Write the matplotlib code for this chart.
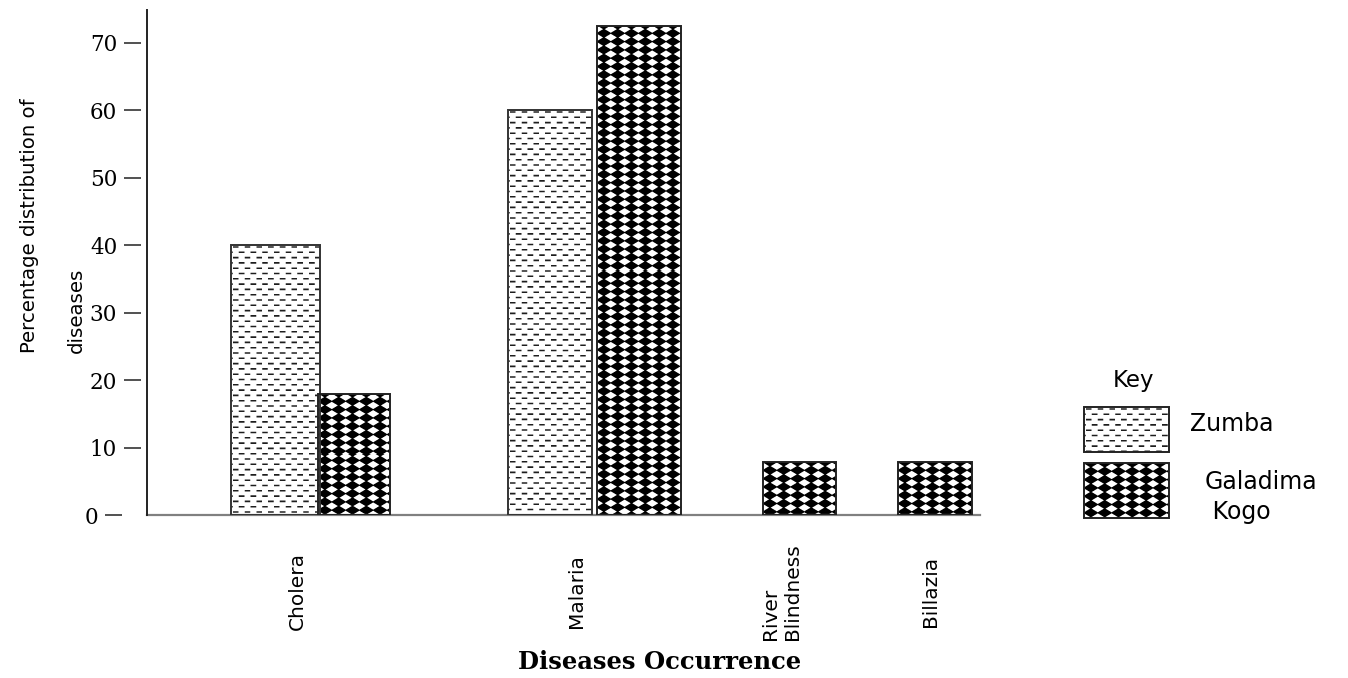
import matplotlib
matplotlib.use("Agg")
import matplotlib.pyplot as plt
import numpy as np
from matplotlib.patches import Rectangle
from matplotlib.transforms import ScaledTranslation

# disease shares (%) per settlement
categories = ["Cholera", "Malaria", "River\nBlindness", "Billazia"]
zumba_pct = [40, 60, 0, 0]
galadima_pct = [18, 72.5, 7.8, 7.8]
y_ticks = [0, 10, 20, 30, 40, 50, 60, 70]

# bar layout in axis units (1 unit = 100 px)
zumba_x = [1.285, 4.03, 0, 0]
zumba_w = [0.89, 0.84, 0, 0]
galadima_x = [2.07, 4.92, 6.525, 7.88]
galadima_w = [0.72, 0.84, 0.73, 0.74]
label_x = [1.50, 4.30, 6.34, 7.83]

W, H, DPI = 1348, 678, 100
SS = 4


def dash_texture(h, w):
    yy, xx = np.mgrid[0:h * SS, 0:w * SS] / SS + 0.5 / SS
    period_y, period_x = 5.3, 11.7
    row = np.floor((yy - 1.2) / period_y)
    yin = (yy - 1.2) - row * period_y
    xin = (xx + (row % 2) * period_x / 2 - 2.0) % period_x
    ink = (yin < 1.6) & (xin < 5.6)
    val = 1.0 - 0.88 * ink
    return val.reshape(h, SS, w, SS).mean(axis=(1, 3))


def diamond_texture(h, w):
    yy, xx = np.mgrid[0:h * SS, 0:w * SS] / SS + 0.5 / SS
    p, q = 13.8, 8.3
    dx = xx / p - 0.5
    dx = dx - np.round(dx)
    dy = yy / q
    dy = dy - np.round(dy)
    ink = np.abs(dx) + np.abs(dy) < 0.56
    val = 1.0 - 1.0 * ink
    return val.reshape(h, SS, w, SS).mean(axis=(1, 3))


def fill_patch(ax, patch, texture):
    x0, y0 = patch.get_x(), patch.get_y()
    x1, y1 = x0 + patch.get_width(), y0 + patch.get_height()
    (px0, py0), (px1, py1) = ax.transData.transform([(x0, y0), (x1, y1)])
    w_px = max(int(round(abs(px1 - px0))), 1)
    h_px = max(int(round(abs(py1 - py0))), 1)
    img = ax.imshow(texture(h_px, w_px), cmap="gray", vmin=0, vmax=1,
                    extent=[x0, x1, y0, y1], aspect="auto",
                    interpolation="nearest", zorder=2)
    img.set_clip_path(patch)


fig = plt.figure(figsize=(W / DPI, H / DPI), dpi=DPI)
ax = fig.add_axes([147 / W, (H - 515) / H, 833 / W, 505 / H])
ax.set_xlim(0, 8.33)
ax.set_ylim(0, 74.85)

zumba_bars = []
galadima_bars = []
for x, w, v in zip(zumba_x, zumba_w, zumba_pct):
    if v > 0:
        zumba_bars += ax.bar(x, v, w, facecolor="none", edgecolor="#333333",
                             linewidth=1.4, zorder=3).patches
for x, w, v in zip(galadima_x, galadima_w, galadima_pct):
    if v > 0:
        galadima_bars += ax.bar(x, v, w, facecolor="none", edgecolor="#222222",
                                linewidth=1.4, zorder=3).patches

for b in zumba_bars:
    fill_patch(ax, b, dash_texture)
for b in galadima_bars:
    fill_patch(ax, b, diamond_texture)

ax.set_xlim(0, 8.33)
ax.set_ylim(0, 74.85)

# axes styling
for side in ["top", "right"]:
    ax.spines[side].set_visible(False)
ax.spines["bottom"].set_color("#808080")
ax.spines["bottom"].set_linewidth(1.6)
ax.spines["left"].set_position(("outward", 4))
ax.spines["left"].set_visible(False)
ax.axvline(0, color="#222222", linewidth=1.4, zorder=4, clip_on=False)

ax.set_yticks(y_ticks)
ax.set_yticklabels([str(t) for t in y_ticks], family="DejaVu Serif", fontsize=15.5)
ax.tick_params(axis="y", length=12.5, width=1.2, color="#333333", pad=5)

ax.set_xticks(label_x)
ax.set_xticklabels(categories, rotation=90, family="DejaVu Sans", fontsize=14.5,
                   va="center", ha="center", multialignment="left")
ax.tick_params(axis="x", length=0, pad=55)

# the zero tick sits a little further out
zero_tick = ax.yaxis.get_major_ticks()[0]
shift = ScaledTranslation(-19 / DPI, 0, fig.dpi_scale_trans)
zero_tick.tick1line.set_transform(zero_tick.tick1line.get_transform() + shift)
zero_tick.label1.set_transform(zero_tick.label1.get_transform() + shift)

fig.text(53 / W, (H - 226) / H, "Percentage distribution of\ndiseases", rotation=90,
         ha="center", va="center", multialignment="left", family="DejaVu Sans",
         fontsize=14.2, linespacing=2.9)
fig.text(660 / W, (H - 662) / H, "Diseases Occurrence", ha="center", va="center",
         family="DejaVu Serif", fontweight="bold", fontsize=17.5)

# key
lax = fig.add_axes([0, 0, 1, 1], zorder=5)
lax.set_xlim(0, W)
lax.set_ylim(H, 0)
lax.axis("off")
key_boxes = [Rectangle((1084, 407), 85, 45), Rectangle((1084, 463), 85, 55)]
for box, tex in zip(key_boxes, [dash_texture, diamond_texture]):
    box.set_facecolor("none")
    box.set_edgecolor("#222222")
    box.set_linewidth(1.4)
    box.set_zorder(3)
    lax.add_patch(box)
    x0, y0 = box.get_x(), box.get_y()
    w, h = box.get_width(), box.get_height()
    img = lax.imshow(tex(int(h), int(w)), cmap="gray", vmin=0, vmax=1,
                     extent=[x0, x0 + w, y0 + h, y0], aspect="auto",
                     interpolation="nearest", zorder=2)
    img.set_clip_path(box)
lax.set_xlim(0, W)
lax.set_ylim(H, 0)
lax.text(1113, 380, "Key", ha="left", va="center", family="DejaVu Sans", fontsize=16.5)
lax.text(1190, 424, "Zumba", ha="left", va="center", family="DejaVu Sans", fontsize=17)
lax.text(1205, 497, "Galadima\n Kogo", ha="left", va="center", multialignment="left",
         family="DejaVu Sans", fontsize=17, linespacing=1.35)

fig.savefig("out.png", dpi=DPI)
